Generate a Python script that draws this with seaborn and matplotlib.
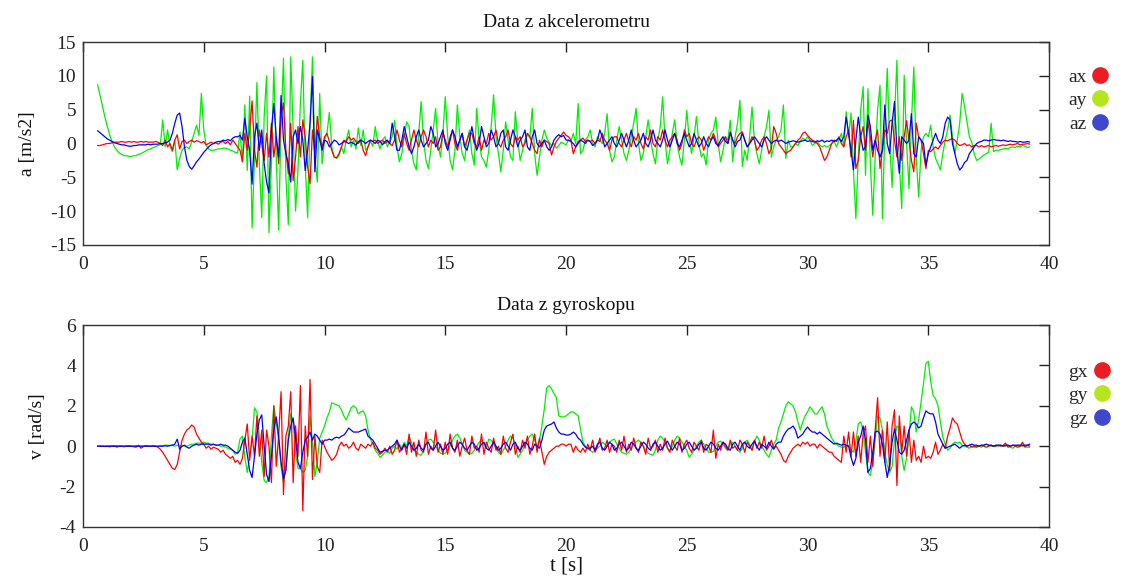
import numpy as np
import pandas as pd
import matplotlib
matplotlib.use("Agg")
import matplotlib.pyplot as plt
from matplotlib.lines import Line2D
import seaborn as sns

# Sampling: 10 Hz, first sample at t = 0.6 s
T0 = 0.6
DT = 0.1

# Accelerometer [m/s2]
ax_vals = [
    -0.3, -0.3, -0.2, -0.1,
    0.0, 0.0, 0.1, 0.2, 0.2, 0.2, 0.3, 0.2, 0.2, 0.3,
    0.2, 0.3, 0.2, 0.2, 0.3, 0.2, 0.3, 0.2, 0.2, 0.2,
    0.3, 0.2, 0.0, -0.3, 0.5, -0.5, 0.0, -1.0, 0.5, 1.3,
    -0.8, 0.3, 0.5, 0.0, 0.3, 0.5, 0.2, 0.4, 0.3, 0.1,
    0.3, -0.2, 0.0, 0.2, 0.0, 0.1, -0.1, 0.2, 0.3, 0.0,
    0.3, -0.2, 0.5, 0.0, -0.5, -1.0, -2.7, 1.5, -1.0, 2.0,
    6.3, -1.0, -3.5, 2.0, 0.0, -2.5, 1.5, -2.0, 3.0, -2.0,
    1.0, -3.0, 4.0, 6.0, -1.0, -4.5, 3.0, -5.5, -2.0, 2.5,
    -2.0, 3.5, 1.0, -3.5, -6.0, 2.0, -1.5, 4.0, 1.0, -0.5,
    1.0, 1.5, 0.3, -1.0, -2.0, -2.1, -1.5, -0.5, 0.5, 0.3,
    1.0, 0.5, 0.8, 0.3, 0.0, 0.5, -1.0, -1.8, -0.5, 0.5,
    0.3, 0.5, 0.0, 0.3, 0.5, 0.0, 0.3, 0.0, -0.3, 0.5,
    2.0, 0.5, -0.5, 1.5, 0.0, -1.0, 0.5, 2.0, 0.5, -0.5,
    1.0, 2.0, 1.0, -0.5, 0.5, 0.0, 1.0, -1.0, -0.5, 1.5,
    0.5, -0.5, 1.0, 2.0, 0.0, -1.0, 0.5, 1.5, -0.5, 0.5,
    1.5, 1.5, 0.0, -0.5, 1.0, -1.0, 0.5, 0.0, 1.5, 0.5,
    1.0, 2.0, 0.0, -0.5, 0.5, 1.0, 2.0, 0.0, -0.5, 1.0,
    0.5, 1.0, -0.5, 0.0, 1.5, 1.0, 0.0, -1.0, -1.5, 0.5,
    -0.5, 0.5, 0.3, 0.0, -1.7, -0.5, 0.3, 0.8, 1.2, 1.7,
    1.2, 1.0, 0.5, -1.5, -0.5, 0.3, 0.5, 0.8, 0.3, 0.5,
    0.3, 0.5, 0.0, 0.5, 0.3, 1.5, 0.5, 0.0, -1.0, 0.5,
    1.0, 1.0, 0.0, -0.5, 0.5, 1.5, 0.3, -0.5, 1.0, 0.5,
    1.5, 0.0, -0.8, 1.0, 0.5, 2.0, 0.0, -0.5, 1.0, 0.5,
    2.0, 0.5, -0.5, 0.5, 1.0, 1.5, 0.5, -1.0, 0.0, 2.0,
    1.0, 1.5, 0.0, -0.5, 0.5, 1.0, 0.5, -1.0, 0.0, 1.0,
    0.5, 1.5, 0.5, -0.5, 0.0, 0.5, 1.0, 0.0, 1.5, 0.5,
    0.0, 1.0, 1.5, 1.7, 0.5, -0.5, 0.0, 1.0, 0.5, -1.0,
    -0.5, 0.5, 1.0, 0.0, -1.5, -0.8, 2.5, 1.5, 0.0, -0.5,
    -1.0, -1.5, -1.2, -1.0, -0.5, 0.0, 0.5, 0.8, 1.5, 1.7,
    1.2, 0.8, 0.5, 0.3, 0.0, -0.5, -1.5, -2.5, -2.0, -1.0,
    0.0, 0.5, 0.3, 1.0, 0.0, -0.5, 1.0, 2.0, -2.0, 3.4,
    -3.7, -2.5, 1.0, 2.5, -1.0, 3.2, 1.0, -2.0, 0.5, 2.0,
    -3.7, -1.0, 2.0, 1.5, 3.3, 3.5, 0.5, -2.0, 1.0, -2.5,
    1.0, 3.4, 0.5, -2.5, -4.2, 3.0, 1.0, 0.5, -1.5, -3.7,
    -1.0, -1.2, -0.8, -0.5, -0.8, -0.3, 0.2, 0.5, 0.4, 0.6,
    0.7, 0.5, 0.0, -0.3, -0.2, 0.0, -0.3, -0.2, -0.5, -0.3,
    -0.3, -0.5, -0.3, -0.5, -0.4, -0.3, -0.5, -0.4, -0.3, -0.4,
    -0.3, -0.2, -0.3, -0.2, -0.1, -0.2, -0.1, 0.0, -0.2, -0.1,
    -0.1, 0.0, -0.1,
]
ay_vals = [
    8.7, 7.2, 5.6, 4.0,
    2.6, 1.3, 0.3, -0.5, -1.0, -1.4, -1.6, -1.8, -1.8, -1.9,
    -1.9, -1.8, -1.8, -1.6, -1.5, -1.3, -1.1, -0.9, -0.8, -0.6,
    -0.5, -0.3, -0.2, 3.5, -0.5, 2.0, -0.4, -1.2, 0.5, -3.9,
    -2.2, -1.0, -0.6, -0.5, -0.8, 0.3, 1.5, 2.7, 1.2, 7.4,
    2.0, -0.3, -0.8, -1.0, -1.0, -0.9, -0.8, -0.8, -0.7, -0.7,
    -0.8, -1.0, -1.1, -1.3, -1.4, 1.7, -2.7, 5.7, -4.0, 7.0,
    -12.5, -2.0, 9.0, -3.0, -11.0, 4.0, 10.0, -13.2, -3.0, 11.3,
    -2.0, -12.8, 3.0, 12.6, -5.0, -12.0, 12.8, 2.0, -10.0, -4.0,
    6.0, 12.3, -3.0, -11.0, 3.0, 12.8, -2.0, -5.7, 7.4, -3.0,
    0.5, 1.5, 4.6, -0.5, -2.0, -2.2, -1.8, -0.5, -1.5, 0.5,
    2.0, -0.5, 0.5, -0.8, 2.3, -0.3, 2.0, -1.0, -0.5, 0.3,
    -0.4, 2.5, 0.3, -0.8, 0.5, 1.0, -0.5, 0.2, 1.0, 3.4,
    -0.5, -2.7, -1.5, 1.0, 3.2, 2.5, -1.0, -3.0, -3.9, 1.5,
    6.2, 0.5, -2.5, -3.7, -1.0, 2.0, 5.2, 0.0, -2.0, 1.5,
    6.9, 1.0, -2.5, -3.9, -1.0, 5.7, 1.0, -1.5, -2.5, 0.5,
    2.0, -1.5, -3.2, 5.2, 0.5, -2.0, -2.5, -3.5, -1.0, 2.5,
    7.2, 1.0, -1.5, -4.2, -1.0, 3.2, 0.5, -2.0, -2.5, 4.7,
    0.5, -2.5, -1.0, 0.5, 1.5, 0.8, 5.2, -1.5, -4.7, -2.0,
    0.5, 2.0, 0.8, 0.2, -0.3, 0.0, -0.7, -0.3, 0.2, 0.0,
    -0.2, 0.5, 0.3, 1.5, 0.0, 5.9, -1.5, -1.0, 0.5, 1.0,
    2.0, 0.0, -0.5, 1.0, 0.5, 0.0, 1.5, 4.4, -1.0, -2.7,
    -2.0, 0.5, 2.5, 0.5, -1.5, -2.5, -1.0, 1.0, 3.0, 5.2,
    0.0, -2.5, -1.5, 1.0, 3.5, 0.5, -1.5, -3.0, 0.5, 2.5,
    6.9, 0.5, -3.0, -1.0, 1.5, 3.5, 0.0, -2.0, -3.2, 0.5,
    4.9, 0.5, -1.5, 1.0, 4.0, 0.0, -2.0, -1.5, -3.2, 0.5,
    1.5, 2.0, 3.9, 0.0, -2.7, -1.0, 1.0, 0.5, 3.4, -2.7,
    1.0, 3.0, 6.4, -3.4, -1.0, -2.5, 1.0, 5.4, 0.5, -1.5,
    -3.0, -1.0, 1.0, 2.5, 4.9, -2.0, -0.5, 0.5, 1.0, 2.0,
    5.7, -2.2, 0.5, -0.5, -0.5, 0.0, -0.3, 0.3, 0.8, 0.5,
    1.0, 0.5, -0.3, 0.0, 0.3, -0.2, -0.5, -0.3, -0.5, -0.3,
    0.0, 0.3, -0.5, 0.5, 1.5, -0.5, 4.7, 1.0, 4.5, -4.0,
    -11.1, -2.0, 5.0, 8.4, -4.7, 8.1, -3.0, -10.6, -2.0, 5.0,
    8.6, -11.1, 2.0, 11.1, 0.0, -6.5, 4.0, 12.3, -3.0, -9.6,
    10.1, 0.0, -6.7, 3.0, 11.3, -2.0, -7.9, -1.0, 1.0, 1.5,
    1.0, 2.7, -0.5, -2.2, -3.0, -3.9, -1.5, 0.5, 2.0, 4.2,
    1.0, -1.5, 0.5, 3.0, 7.4, 5.5, 3.2, 1.0, 0.2, -1.5,
    -2.5, -2.3, -2.0, -1.7, -1.5, -1.3, 3.0, -1.2, -1.0, -1.0,
    -0.9, -0.8, -0.7, -0.8, -0.6, -0.5, -0.6, -0.4, -0.5, -0.3,
    -0.4, -0.6, -0.5,
]
az_vals = [
    1.9, 1.6, 1.3, 1.0,
    0.7, 0.5, 0.3, 0.1, 0.0, -0.1, -0.2, -0.2, -0.3, -0.4,
    -0.4, -0.3, -0.3, -0.2, -0.2, -0.2, -0.2, -0.1, -0.2, -0.1,
    -0.1, -0.1, 0.0, 0.0, 0.1, 0.2, 0.5, 1.5, 3.0, 4.2,
    4.5, 2.5, -0.5, -2.5, -3.4, -3.8, -3.3, -2.7, -2.3, -1.8,
    -1.3, -0.9, -0.5, -0.2, 0.0, 0.2, 0.3, 0.3, 0.5, 0.4,
    0.6, 0.4, 0.8, 1.0, 1.0, 1.2, 0.5, 3.7, 1.0, -1.0,
    -6.0, 1.0, 3.0, -1.0, 2.0, -3.0, -5.7, -7.3, 2.0, 5.9,
    1.0, -2.0, 7.1, 0.5, -1.5, -3.0, -5.7, 1.0, 2.0, 0.0,
    2.5, 0.5, -4.0, -1.0, 3.0, 9.9, -4.2, 2.0, 0.5, -1.0,
    0.5, 0.3, -0.5, 0.0, 0.5, 0.3, -0.2, 0.0, 0.3, 0.2,
    0.0, 0.2, 0.0, -0.2, 0.3, 0.5, 0.3, 0.0, 0.3, 0.5,
    0.3, 0.0, 0.5, 0.3, -0.2, 0.3, 0.5, 0.0, 3.0, 1.0,
    -1.0, -1.0, 0.5, 2.5, 1.0, -0.5, -1.5, -0.5, 1.0, 2.0,
    0.5, -0.5, 0.0, 0.5, 2.5, 1.5, -0.5, 0.0, 1.0, 2.0,
    0.0, -1.0, 0.5, 2.0, 1.0, -0.5, 0.5, 1.5, -0.5, -1.0,
    0.5, 2.5, 0.5, -1.0, 0.0, 2.5, 1.0, -0.5, 0.0, 2.0,
    1.0, -0.5, 0.0, 1.5, 2.0, -0.5, -1.0, 0.5, 2.0, 1.0,
    -0.5, 0.5, 1.0, 2.0, -0.5, -1.0, 1.0, 2.0, 0.0, -0.5,
    0.0, 0.5, -0.5, -1.0, -0.5, 0.5, 1.0, 1.3, 1.0, 1.2,
    0.5, 0.5, 0.3, 0.0, -0.5, 0.0, 0.5, 0.3, 0.0, 0.5,
    0.3, -0.3, 0.0, 0.5, 2.0, 1.0, -0.5, 0.0, 0.5, 1.0,
    0.0, -0.5, 0.5, 1.5, 0.5, -0.5, 0.5, 2.0, 0.5, -0.5,
    0.0, 0.5, 1.5, 0.0, -0.5, 0.5, 2.0, 0.5, 0.0, -0.5,
    0.5, 2.0, 0.5, -0.5, 0.5, 1.5, 0.0, -0.5, 0.5, 1.5,
    0.5, -0.5, 0.0, 1.5, 0.5, -0.5, 0.0, 1.0, 0.0, -0.5,
    0.5, 1.0, 0.0, -0.3, 0.5, 1.0, 0.3, 0.0, 1.7, 0.5,
    -0.5, 0.3, 0.5, 1.5, 0.5, -0.5, 0.0, 0.5, 1.0, 0.5,
    0.0, -0.5, 0.5, 1.0, 0.5, 0.0, 0.3, 0.5, 0.3, 0.5,
    0.3, 0.0, 0.2, 0.3, 0.4, 0.3, 0.2, 0.3, 0.4, 0.5,
    0.3, 0.4, 0.3, 0.2, 0.4, 0.3, 0.5, 0.2, 0.4, 0.3,
    0.5, 0.3, 0.5, 0.8, 0.3, 1.0, 3.9, 1.5, -1.0, -3.9,
    0.5, 3.9, 1.0, -1.0, -0.5, 4.2, 2.5, -1.0, 0.5, -1.0,
    -2.0, -1.0, 5.7, 0.0, -1.5, 3.0, 6.2, -1.0, -4.4, 1.0,
    0.5, 0.0, 0.5, 4.4, -1.5, -2.0, 1.0, 0.5, 0.0, -3.2,
    -1.5, -0.5, 0.5, 1.5, 0.5, 0.0, 1.0, 3.0, 3.9, 3.5,
    0.0, -1.5, -3.0, -3.9, -3.5, -2.8, -2.5, -1.5, -1.0, -0.5,
    0.0, 0.2, 0.3, 0.5, 0.5, 0.4, 0.5, 0.6, 0.5, 0.5,
    0.4, 0.5, 0.4, 0.3, 0.4, 0.3, 0.3, 0.2, 0.3, 0.2,
    0.2, 0.3, 0.2,
]

# Gyroscope [rad/s]
gx_vals = [
    0.0, 0.0, 0.0, -0.02,
    0.0, -0.03, 0.0, 0.02, -0.05, 0.0, 0.0, -0.03, 0.0, 0.02,
    0.0, -0.03, -0.05, 0.05, -0.1, -0.02, 0.03, 0.0, 0.0, 0.02,
    0.0, -0.05, -0.15, -0.3, -0.5, -0.7, -0.9, -1.1, -1.15, -0.9,
    -0.3, 0.3, 0.6, 0.8, 0.9, 1.05, 0.95, 0.6, 0.4, 0.2,
    0.1, -0.1, 0.0, -0.15, -0.05, -0.1, -0.15, -0.3, -0.2, -0.4,
    -0.5, -0.6, -0.5, -0.8, -0.7, -0.9, -0.6, 0.3, 1.1, -0.7,
    0.5, -0.5, 1.5, -0.5, 0.8, -1.5, 0.8, 0.0, -1.8, 2.0,
    -1.0, 0.5, 2.7, -2.4, 0.5, 1.0, 2.7, -1.8, 1.0, -0.5,
    3.0, -3.2, 1.0, -0.5, 3.3, -1.65, 0.5, -1.0, -1.3, 0.3,
    0.0, -0.3, -0.5, -0.7, -0.6, -0.4, 0.0, 0.2, 0.0, 0.1,
    -0.1, 0.0, 0.2, -0.1, -0.2, 0.1, 0.0, -0.1, 0.1, 0.0,
    0.2, -0.1, -0.2, -0.4, -0.3, -0.1, -0.3, 0.0, -0.4, -0.2,
    0.3, -0.3, -0.1, 0.1, -0.4, 0.6, -0.3, 0.2, -0.5, 0.3,
    -0.2, -0.3, 0.7, -0.4, 0.0, -0.2, 0.8, -0.3, 0.1, -0.4,
    0.2, -0.4, 0.6, -0.1, -0.3, 0.3, -0.5, 0.0, 0.4, -0.2,
    -0.4, 0.5, -0.1, 0.0, -0.3, 0.6, -0.4, 0.2, -0.1, -0.3,
    0.4, -0.2, 0.0, -0.4, 0.5, -0.1, -0.3, 0.2, 0.6, -0.4,
    0.0, -0.3, 0.3, -0.1, 0.5, -0.4, 0.0, 0.6, -0.3, 0.4,
    -0.3, -0.9, -0.5, -0.3, -0.2, -0.1, 0.0, 0.0, 0.1, 0.1,
    0.0, 0.1, 0.1, -0.3, 0.0, -0.2, -0.3, -0.1, -0.3, 0.1,
    -0.2, 0.3, -0.3, 0.0, 0.4, -0.2, -0.1, 0.3, -0.3, 0.1,
    0.0, -0.3, 0.3, -0.2, 0.5, -0.3, 0.1, -0.2, 0.4, -0.1,
    -0.3, 0.2, 0.0, -0.4, 0.4, -0.1, 0.0, 0.3, -0.3, 0.1,
    -0.2, 0.4, -0.1, -0.3, 0.3, 0.0, -0.2, 0.4, -0.3, 0.1,
    0.3, -0.1, -0.3, 0.2, 0.0, -0.2, 0.3, -0.3, 0.1, 0.0,
    -0.3, 0.8, -0.6, 0.1, -0.2, 0.2, 0.0, -0.2, 0.3, -0.1,
    0.0, -0.2, 0.3, 0.1, -0.3, 0.2, 0.0, -0.2, 0.3, -0.1,
    0.2, -0.1, 0.5, -0.2, 0.0, 0.3, -0.1, 0.0, -0.2, -0.4,
    -0.7, -0.8, -0.5, -0.3, -0.1, 0.0, 0.1, 0.0, 0.2, 0.1,
    0.2, 0.0, 0.1, 0.1, -0.1, 0.1, 0.0, -0.1, -0.2, -0.3,
    -0.3, -0.5, -0.6, -0.7, -0.8, 0.5, -0.3, 0.7, -0.5, 0.7,
    -0.5, 0.5, -0.8, 0.6, 1.0, -0.8, 0.5, -1.0, 0.8, 2.4,
    -0.5, 0.8, -0.8, 1.2, -1.2, 1.0, 1.8, -1.95, 1.5, -0.3,
    1.0, -0.5, 0.8, -0.8, 0.3, -0.7, -0.5, -0.8, 0.0, -0.6,
    -0.5, -0.6, -0.3, 0.2, -0.4, -0.2, 0.1, -0.1, 0.5, 0.9,
    1.4, 1.2, 1.1, 0.7, 0.3, 0.1, 0.0, 0.05, -0.05, 0.0,
    -0.05, 0.0, 0.05, 0.0, -0.05, 0.0, 0.05, 0.0, 0.0, 0.05,
    0.0, 0.05, 0.15, -0.05, 0.0, 0.05, 0.0, -0.05, 0.0, 0.2,
    -0.05, 0.05, 0.0,
]
gy_vals = [
    0.0, 0.0, 0.0, 0.0,
    0.0, 0.02, 0.0, 0.0, 0.02, 0.0, 0.0, 0.0, 0.02, 0.0,
    0.0, 0.0, 0.02, 0.0, 0.0, 0.0, 0.02, 0.0, 0.0, 0.0,
    0.0, 0.0, 0.02, 0.03, 0.05, 0.05, 0.03, 0.05, 0.0, 0.05,
    0.0, 0.05, 0.0, 0.0, 0.05, 0.1, 0.1, 0.15, 0.15, 0.15,
    0.2, 0.15, 0.15, 0.1, 0.1, 0.05, 0.05, 0.0, 0.0, -0.05,
    -0.1, -0.15, -0.2, -0.4, -0.3, 0.36, 0.5, -0.55, -1.3, -0.5,
    0.3, 1.9, 1.7, 0.5, -0.8, -1.7, -1.8, -1.5, 0.5, 2.0,
    1.2, 0.3, -1.0, -1.8, -1.0, 0.5, 1.6, 1.2, -0.3, -1.1,
    -1.1, -1.3, -1.2, -0.5, 1.5, 0.2, -1.5, -0.8, 0.4, 0.7,
    1.0, 1.4, 1.7, 2.15, 2.1, 2.05, 2.0, 1.8, 1.5, 1.3,
    1.6, 1.9, 2.0, 1.9, 1.6, 1.7, 1.75, 1.5, 0.8, 0.35,
    0.1, -0.2, -0.35, -0.55, -0.45, -0.3, -0.25, -0.35, -0.1, 0.0,
    -0.15, 0.1, -0.1, 0.2, 0.0, 0.45, 0.2, -0.2, -0.3, -0.4,
    -0.45, -0.2, 0.1, 0.3, 0.35, 0.2, 0.0, -0.2, -0.35, -0.4,
    -0.35, -0.2, 0.0, 0.3, 0.5, 0.6, 0.4, 0.1, -0.2, -0.3,
    -0.4, -0.35, -0.2, 0.0, 0.2, 0.3, 0.1, -0.1, 0.35, 0.3,
    0.1, -0.1, -0.3, -0.4, -0.2, 0.0, 0.3, 0.5, 0.4, 0.1,
    -0.55, -0.4, -0.2, 0.1, 0.3, 0.5, 0.6, 0.3, 0.0, 0.3,
    1.0, 1.85, 2.9, 3.0, 2.85, 2.6, 2.4, 1.5, 1.45, 1.45,
    1.5, 1.6, 1.7, 1.7, 1.6, 1.5, 0.85, 0.2, 0.0, -0.15,
    -0.2, -0.3, -0.2, -0.1, 0.0, 0.2, 0.1, 0.0, 0.2, 0.3,
    0.35, 0.1, -0.1, -0.3, -0.35, -0.4, -0.3, -0.1, 0.1, 0.2,
    0.3, 0.2, 0.0, -0.2, -0.35, -0.4, -0.45, -0.2, 0.3, 0.5,
    0.4, 0.2, -0.1, -0.2, 0.0, 0.3, 0.5, 0.4, 0.2, 0.0,
    -0.2, -0.55, -0.4, -0.2, 0.0, 0.2, 0.3, 0.1, -0.1, -0.3,
    -0.3, -0.25, 0.0, 0.2, 0.25, 0.1, -0.1, -0.2, 0.1, 0.2,
    0.0, -0.2, -0.3, -0.1, 0.2, 0.3, 0.1, -0.2, 0.2, 0.5,
    0.3, 0.0, -0.2, -0.4, -0.55, -0.2, 0.1, 0.3, 0.9, 1.2,
    1.6, 2.0, 2.2, 2.1, 2.0, 1.7, 1.2, 0.8, 1.2, 1.5,
    1.7, 1.95, 1.8, 1.6, 1.6, 1.8, 1.95, 1.6, 1.0, 0.7,
    0.4, 0.2, 0.1, 0.0, -0.05, -0.05, 0.0, 0.05, -0.2, -0.3,
    0.2, 1.1, 1.2, 0.8, -0.3, -1.3, -1.45, -0.8, 0.3, 1.5,
    1.4, 0.8, -0.3, -0.95, -1.3, -1.0, 0.3, 1.0, 0.9, -0.5,
    -1.2, -0.6, 0.5, 1.95, 1.7, 0.7, 1.3, 2.2, 3.1, 4.1,
    4.2, 3.2, 2.5, 2.35, 2.0, 1.2, 0.45, 0.1, -0.2, -0.1,
    0.1, 0.2, 0.15, 0.2, 0.05, 0.0, -0.05, -0.1, 0.0, -0.05,
    0.0, 0.0, -0.05, 0.05, 0.1, 0.05, 0.0, 0.0, 0.05, 0.0,
    0.05, 0.0, 0.0, 0.05, -0.05, -0.1, 0.0, 0.05, 0.0, 0.0,
    0.0, -0.05, -0.05,
]
gz_vals = [
    0.0, 0.0, 0.0, 0.0,
    0.0, 0.0, 0.0, 0.0, 0.0, 0.0, 0.0, 0.0, 0.0, 0.0,
    0.0, 0.0, 0.0, 0.0, 0.0, 0.0, 0.0, 0.0, 0.0, 0.0,
    0.0, 0.0, 0.0, 0.0, 0.02, 0.0, 0.03, 0.05, 0.1, 0.35,
    -0.15, 0.0, 0.05, -0.05, -0.1, 0.0, 0.05, 0.1, 0.05, 0.1,
    0.1, 0.1, 0.1, 0.05, 0.1, 0.05, 0.05, 0.1, 0.05, 0.05,
    0.0, -0.1, -0.2, -0.3, -0.35, -0.2, 0.2, 0.4, -0.4, -1.2,
    -1.55, -0.5, 0.6, 1.3, 1.55, 0.0, -1.4, -1.75, -0.5, 0.8,
    1.45, 0.5, -0.8, -1.6, -1.2, 0.3, 1.0, 1.4, 0.4, -0.8,
    -1.1, -0.3, 0.3, 0.45, 0.7, 0.3, 0.6, 0.5, 0.3, 0.1,
    0.3, 0.3, 0.35, 0.3, 0.4, 0.45, 0.4, 0.5, 0.55, 0.7,
    0.9, 0.8, 0.7, 0.7, 0.7, 0.75, 0.8, 0.85, 0.5, 0.4,
    0.3, 0.1, -0.1, -0.3, -0.25, -0.2, -0.2, -0.1, 0.0, 0.1,
    0.3, 0.0, -0.2, 0.1, -0.1, 0.2, 0.0, -0.2, -0.1, 0.1,
    -0.1, -0.2, 0.1, 0.2, -0.1, -0.2, 0.0, 0.2, 0.0, -0.2,
    -0.1, 0.1, 0.2, -0.1, -0.2, 0.0, 0.2, 0.1, -0.1, -0.2,
    0.0, 0.2, 0.1, -0.2, -0.1, 0.1, 0.2, -0.1, -0.2, 0.0,
    0.2, 0.0, -0.2, -0.1, 0.1, 0.2, 0.0, -0.2, 0.1, 0.2,
    -0.1, -0.2, 0.0, 0.2, 0.1, -0.1, -0.2, 0.1, 0.0, -0.1,
    0.3, 0.8, 1.0, 1.05, 1.1, 1.2, 0.9, 0.7, 0.6, 0.6,
    0.55, 0.55, 0.6, 0.7, 0.6, 0.4, 0.3, 0.1, -0.05, -0.1,
    -0.1, 0.0, -0.2, 0.1, 0.2, -0.1, -0.2, 0.0, 0.2, 0.1,
    -0.2, -0.1, 0.1, 0.2, 0.0, -0.2, -0.1, 0.2, 0.1, -0.1,
    -0.2, 0.0, 0.2, 0.1, -0.1, -0.2, 0.1, 0.2, 0.0, -0.2,
    -0.1, 0.1, 0.25, 0.0, -0.2, 0.0, 0.2, 0.1, -0.2, -0.1,
    0.1, 0.2, 0.0, -0.2, -0.1, 0.1, 0.2, -0.1, -0.2, 0.0,
    0.2, 0.1, -0.1, -0.2, 0.0, 0.2, 0.1, -0.1, -0.2, 0.1,
    0.2, 0.0, -0.2, 0.1, 0.2, 0.0, -0.1, 0.1, 0.25, 0.0,
    -0.2, 0.1, 0.0, -0.1, 0.2, 0.0, -0.15, 0.1, 0.2, 0.2,
    0.5, 0.7, 0.85, 0.9, 1.0, 0.8, 0.4, 0.5, 0.6, 0.8,
    0.95, 0.8, 0.7, 0.7, 0.6, 0.7, 0.6, 0.5, 0.4, 0.3,
    0.2, 0.1, 0.15, 0.1, 0.05, 0.1, 0.05, 0.0, -0.55, -0.95,
    -0.6, 0.2, 0.5, 1.0, 0.3, -1.3, -1.1, -0.3, 0.7, 0.75,
    0.6, 0.1, -0.8, -1.55, -0.9, 0.2, 0.85, 0.3, -0.3, -0.4,
    -0.2, 0.3, 0.8, 1.1, 1.2, 1.1, 0.9, 1.0, 1.4, 1.75,
    1.65, 1.6, 1.6, 1.2, 0.6, 0.35, 0.1, -0.1, -0.05, 0.0,
    0.05, 0.1, 0.0, -0.1, 0.0, 0.05, 0.0, 0.05, 0.1, 0.05,
    0.05, 0.0, 0.05, 0.05, 0.1, 0.05, 0.05, 0.0, 0.05, 0.05,
    0.05, 0.0, 0.05, 0.05, 0.0, 0.05, 0.05, 0.05, 0.05, 0.05,
    0.05, 0.05, 0.1,
]

accel_labels = ["ax", "ay", "az"]
gyro_labels = ["gx", "gy", "gz"]
x_ticks = [0, 5, 10, 15, 20, 25, 30, 35, 40]
accel_yticks = [-15, -10, -5, 0, 5, 10, 15]
gyro_yticks = [-4, -2, 0, 2, 4, 6]

line_colors = ["#ff0000", "#00ee00", "#0000ff"]
legend_colors = ["#ec1c24", "#b5e61d", "#3f48cc"]


def long_frame(labels, series):
    parts = []
    for lab, vals in zip(labels, series):
        t = T0 + DT * np.arange(len(vals))
        parts.append(pd.DataFrame({"t": t, "value": vals, "axis": lab}))
    return pd.concat(parts, ignore_index=True)


acc_df = long_frame(accel_labels, [ax_vals, ay_vals, az_vals])
gyr_df = long_frame(gyro_labels, [gx_vals, gy_vals, gz_vals])

sns.set_theme(style="white")
plt.rcParams["font.family"] = ["Liberation Serif", "DejaVu Serif"]
plt.rcParams["axes.edgecolor"] = "#333333"
plt.rcParams["axes.linewidth"] = 1.0
plt.rcParams["axes.unicode_minus"] = False

fig = plt.figure(figsize=(11.22, 5.77), dpi=100)
ax_top = fig.add_axes([0.074, 0.5754, 0.861, 0.3518])
ax_bot = fig.add_axes([0.074, 0.0867, 0.861, 0.3500])


def draw(axh, df, labels, title, ylabel, yticks, ylim, legend_y):
    # draw the middle component first so red and blue stay visible on top
    order = [labels[1], labels[0], labels[2]]
    pal = {labels[0]: line_colors[0], labels[1]: line_colors[1], labels[2]: line_colors[2]}
    sns.lineplot(data=df, x="t", y="value", hue="axis", hue_order=order,
                 palette=pal, linewidth=0.9, legend=False, ax=axh)
    axh.set_xlim(0, 40)
    axh.set_ylim(*ylim)
    axh.set_xticks(x_ticks)
    axh.set_yticks(yticks)
    axh.tick_params(direction="in", length=7, width=1, top=True, right=True,
                    labelsize=14, colors="#222222", pad=5)
    axh.tick_params(axis="x", pad=8)
    axh.set_title(title, fontsize=14, pad=11, color="#111111")
    axh.set_ylabel(ylabel, fontsize=14, color="#111111", labelpad=10)
    axh.set_xlabel("")
    handles = [Line2D([], [], linestyle="none", marker="o", markersize=11,
                      markerfacecolor=c, markeredgecolor=c) for c in legend_colors]
    axh.legend(handles, labels, loc="upper left", bbox_to_anchor=(1.012, legend_y),
               frameon=False, markerfirst=False, fontsize=14, handlelength=0.8,
               handletextpad=0.3, labelspacing=0.3, borderaxespad=0)


draw(ax_top, acc_df, accel_labels, "Data z akcelerometru", "a [m/s2]",
     accel_yticks, (-15, 15), 0.91)
draw(ax_bot, gyr_df, gyro_labels, "Data z gyroskopu", "v [rad/s]",
     gyro_yticks, (-4, 6), 0.85)
ax_bot.set_xlabel("t [s]", fontsize=15, color="#111111", labelpad=1)

fig.savefig("out.png", dpi=100)
